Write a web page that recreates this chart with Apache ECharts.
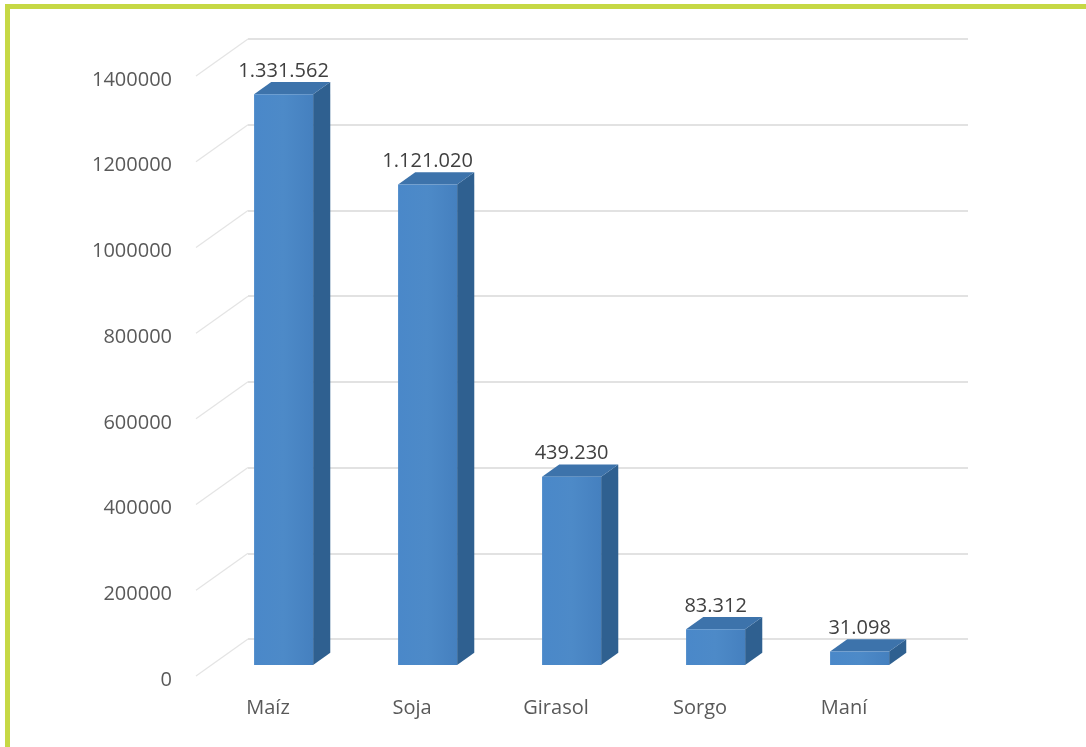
<!DOCTYPE html>
<html>
<head>
<meta charset="utf-8">
<script src="https://cdn.jsdelivr.net/npm/echarts@6/dist/echarts.min.js"></script>
<style>
html,body{margin:0;padding:0;background:#fff;}
#c{width:1086px;height:747px;}
</style>
</head>
<body>
<div id="c"></div>
<script>
const categories = ['Maíz', 'Soja', 'Girasol', 'Sorgo', 'Maní'];
const values = [1331562, 1121020, 439230, 83312, 31098];
const yTicks = [0, 200000, 400000, 600000, 800000, 1000000, 1200000, 1400000];

const DEPTH = [52, -37];
const FRONT = 0.30, BACK = 0.63;
const TEXT = '#595959';
const FONT = "'Open Sans', 'Noto Sans', sans-serif";

function fmt(v) {
  return String(v).replace(/\B(?=(\d{3})+(?!\d))/g, '.');
}

const chart = echarts.init(document.getElementById('c'), null, {renderer: 'canvas'});

const option = {
  backgroundColor: '#ffffff',
  animation: false,
  textStyle: {fontFamily: FONT},
  graphic: [
    {type: 'rect', shape: {x: 5, y: 4, width: 1081, height: 5}, style: {fill: '#c6d845'}, z: 100},
    {type: 'rect', shape: {x: 5, y: 4, width: 5, height: 743}, style: {fill: '#c6d845'}, z: 100}
  ],
  grid: [
    {left: 196, top: 76, width: 720, height: 600},
    {left: 248, top: 39, width: 720, height: 600}
  ],
  xAxis: [
    {
      type: 'category', gridIndex: 0, data: categories,
      axisLine: {show: false}, axisTick: {show: false},
      axisLabel: {color: TEXT, fontSize: 20, fontFamily: FONT, margin: 22}
    },
    {
      type: 'category', gridIndex: 1, data: categories,
      axisLine: {show: false}, axisTick: {show: false}, axisLabel: {show: false}
    }
  ],
  yAxis: [
    {
      type: 'value', gridIndex: 0, min: yTicks[0], max: yTicks[yTicks.length - 1], interval: 200000,
      axisLine: {show: false}, axisTick: {show: false}, splitLine: {show: false},
      axisLabel: {
        color: TEXT, fontSize: 20, fontFamily: FONT, margin: 24,
        verticalAlign: 'top', lineHeight: 8,
        formatter: function (v) { return String(v); }
      }
    },
    {
      type: 'value', gridIndex: 1, min: yTicks[0], max: yTicks[yTicks.length - 1], interval: 200000,
      axisLine: {show: false}, axisTick: {show: false}, axisLabel: {show: false},
      splitLine: {show: true, lineStyle: {color: '#d9d9d9', width: 1.5}}
    }
  ],
  series: [
    {
      type: 'custom', xAxisIndex: 0, yAxisIndex: 0, clip: false, silent: true,
      data: yTicks.map(v => [0, v]),
      renderItem: function (params, api) {
        const p = api.coord([0, api.value(1)]);
        const bw = api.size([1, 0])[0];
        const x0 = p[0] - bw / 2;
        return {
          type: 'line',
          shape: {x1: x0, y1: p[1], x2: x0 + DEPTH[0], y2: p[1] + DEPTH[1]},
          style: {stroke: '#e4e4e4', lineWidth: 1.2}
        };
      },
      z: 1
    },
    {
      type: 'custom', xAxisIndex: 0, yAxisIndex: 0, clip: false, silent: true,
      data: values.map((v, i) => [i, v]),
      renderItem: function (params, api) {
        const idx = api.value(0), val = api.value(1);
        const base = api.coord([idx, 0]);
        const top = api.coord([idx, val]);
        const bw = api.size([1, 0])[0];
        const w = bw * 0.41;
        const fx = base[0] + DEPTH[0] * FRONT - w / 2;
        const fyB = base[1] + DEPTH[1] * FRONT;
        const fyT = top[1] + DEPTH[1] * FRONT;
        const dx = DEPTH[0] * (BACK - FRONT), dy = DEPTH[1] * (BACK - FRONT);
        const front = [[fx, fyT], [fx + w, fyT], [fx + w, fyB], [fx, fyB]];
        const side = [[fx + w, fyT], [fx + w + dx, fyT + dy], [fx + w + dx, fyB + dy], [fx + w, fyB]];
        const topF = [[fx, fyT], [fx + w, fyT], [fx + w + dx, fyT + dy], [fx + dx, fyT + dy]];
        return {
          type: 'group',
          children: [
            {type: 'polygon', shape: {points: side}, style: {fill: '#2f6090'}},
            {type: 'polygon', shape: {points: topF}, style: {fill: '#3d73ab'}},
            {
              type: 'polygon', shape: {points: front},
              style: {
                fill: new echarts.graphic.LinearGradient(0, 0, 1, 0, [
                  {offset: 0, color: '#4a88c9'},
                  {offset: 0.5, color: '#4d8ac8'},
                  {offset: 1, color: '#4580bf'}
                ])
              }
            },
            {
              type: 'text',
              style: {
                x: fx + w / 2, y: fyT + dy - 1,
                text: fmt(val), fill: '#404040', fontSize: 20, fontFamily: FONT,
                align: 'center', verticalAlign: 'bottom'
              }
            }
          ]
        };
      },
      z: 5
    }
  ]
};
chart.setOption(option);
</script>
</body>
</html>
